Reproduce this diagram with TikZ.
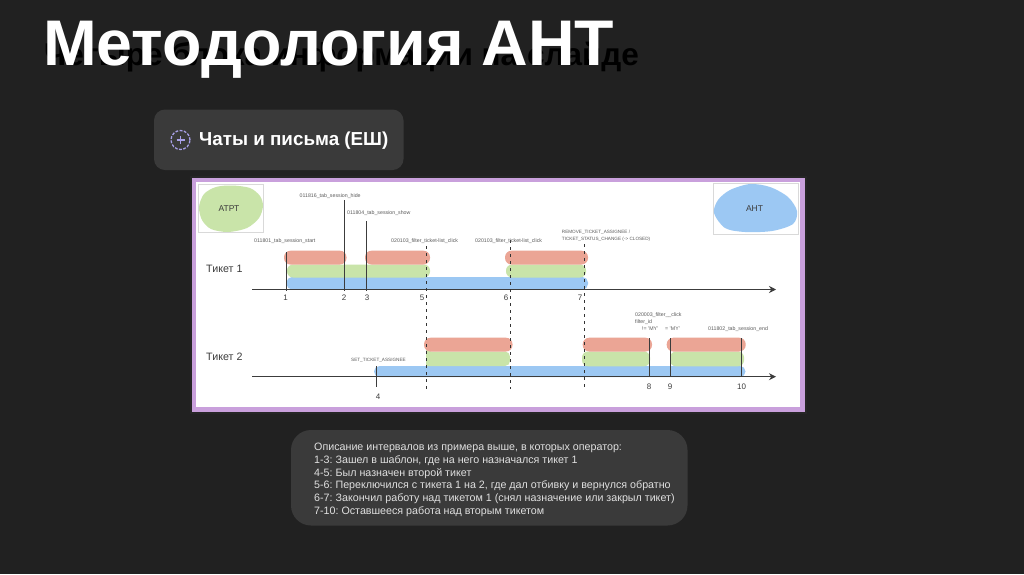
\documentclass[tikz,border=0pt]{standalone}
\usepackage{fontspec}
\setmainfont{Liberation Sans}
\usetikzlibrary{arrows.meta}
\frenchspacing
\definecolor{bgc}{HTML}{212121}
\definecolor{panelc}{HTML}{3A3A3A}
\definecolor{purplec}{HTML}{C9A0DC}
\definecolor{iconc}{HTML}{A9A0E8}
\definecolor{redc}{HTML}{EBA595}
\definecolor{greenc}{HTML}{C9E4A9}
\definecolor{bluec}{HTML}{9CC8F3}
\definecolor{linec}{HTML}{3C3C3C}
\definecolor{labelc}{HTML}{5A5A5A}
\tikzset{
  x=1pt,y=-1pt,
  fs/.style={font=\fontsize{#1}{#1}\selectfont},
  panel/.style={fill=panelc,draw=none},
  redbar/.style={fill=redc,rounded corners=6.5pt},
  greenbar/.style={fill=greenc,rounded corners=6pt},
  bluebar/.style={fill=bluec,rounded corners=5.5pt},
  axisline/.style={draw=linec,line width=0.9pt,-{Stealth[length=7pt,width=7pt]}},
  solidtick/.style={draw=linec,line width=0.9pt},
  dashtick/.style={draw=black!80,line width=0.9pt,dash pattern=on 3pt off 4pt},
  evlabel/.style={fs=5.25,text=labelc,inner sep=0pt,anchor=west},
  caplabel/.style={fs=4.65,text=labelc,inner sep=0pt,anchor=west},
  numlabel/.style={fs=8,text=linec,inner sep=0pt},
  ticketlabel/.style={fs=10.7,text=linec,inner sep=0pt,anchor=west},
  blobtext/.style={fs=8.5,text=linec,inner sep=0pt},
  descline/.style={fs=10.7,text=white!88!black,inner sep=0pt,anchor=west},
}
\begin{document}
\begin{tikzpicture}
\useasboundingbox (0,0) rectangle (1024,574);
\fill[bgc] (0,0) rectangle (1024,574);
% titles
\node[fs=31.5,text=black,inner sep=0pt,anchor=base west] (hidden) at (44,65) {\bfseries Четыре блока информации на слайде};
\node[fs=64.5,text=white,inner sep=0pt,anchor=base west] (title) at (43,65) {\bfseries Методология АНТ};
% tag
\fill[panel,rounded corners=11pt] (154,109.5) rectangle (403.5,170);
\node[circle,draw=iconc,line width=1.3pt,dash pattern=on 2.8pt off 1.5pt,minimum size=19pt,inner sep=0pt] (icon) at (180.5,140) {};
\draw[iconc,line width=1.3pt] (176.5,140) -- (184.5,140) (180.5,136) -- (180.5,144);
\node[fs=18.8,text=white,inner sep=0pt,anchor=west] (tag) at (199,141) {\bfseries Чаты и письма (ЕШ)};
% picture frame
\fill[black!85] (189.5,176) rectangle (807,414);
\fill[white,draw=purplec,line width=4.2pt] (193.8,180.3) rectangle (802.5,409.5);
% corner boxes
\draw[black!15,line width=0.7pt] (198,184) rectangle (263,232);
\draw[black!15,line width=0.7pt] (713,183) rectangle (798,234);
\fill[greenc] plot[smooth cycle] coordinates {(199,207) (204,194) (216,187) (232,185.5) (250,188) (260,196) (263,206) (259,218) (247,228) (228,232) (211,229) (202,220)};
\fill[bluec] plot[smooth cycle] coordinates {(714,213) (718,200) (730,190) (750,184) (770,187) (788,197) (797,211) (793,224) (772,231) (745,232) (725,228)};
\node[blobtext] (atpt) at (229,209) {АТРТ};
\node[blobtext] (aht) at (754.5,209) {АНТ};
% ticket 1 bars
\fill[bluebar] (286.5,277) rectangle (588,289.5);
\fill[greenbar] (287,264.5) rectangle (430,277.5);
\fill[greenbar] (506,264.5) rectangle (586,277.5);
\fill[redbar] (284,250.7) rectangle (346.5,264.5);
\fill[redbar] (365,250.7) rectangle (430,264.5);
\fill[redbar] (505,250.7) rectangle (588,264.5);
% ticket 2 bars
\fill[bluebar] (374,366) rectangle (745.5,377);
\fill[greenc] (426,351.5) -- (426,366) -- (505,366) [rounded corners=5pt] -- (510,366) -- (510,351.5) -- (426,351.5) -- cycle;
\fill[greenbar] (582,351.5) rectangle (650,366.3);
\fill[greenbar] (670,351.5) rectangle (744,366.3);
\fill[redbar] (424,337.7) rectangle (512.5,351.5);
\fill[redbar] (582.7,337.7) rectangle (652,351.5);
\fill[redbar] (666.7,337.7) rectangle (745.7,351.5);
% axes
\coordinate (a1s) at (252,289.5); \coordinate (a1e) at (776,289.5);
\coordinate (a2s) at (252,376.7); \coordinate (a2e) at (776,376.7);
\draw[axisline] (a1s) -- (a1e);
\draw[axisline] (a2s) -- (a2e);
% ticks
\coordinate (t1a) at (286,252); \coordinate (t1b) at (286,291);
\coordinate (t2a) at (344,200); \coordinate (t2b) at (344,291);
\coordinate (t3a) at (366.5,221); \coordinate (t3b) at (366.5,291);
\coordinate (t4a) at (376.7,366); \coordinate (t4b) at (376.7,387);
\coordinate (t8a) at (649.7,338); \coordinate (t8b) at (649.7,377);
\coordinate (t9a) at (670,338); \coordinate (t9b) at (670,377);
\coordinate (t10a) at (741.7,338); \coordinate (t10b) at (741.7,377);
\foreach \n in {1,2,3,4,8,9,10} \draw[solidtick] (t\n a) -- (t\n b);
\coordinate (t5a) at (426,246); \coordinate (t5b) at (426,389);
\coordinate (t6a) at (510,240); \coordinate (t6b) at (510,389);
\coordinate (t7a) at (584,244); \coordinate (t7b) at (584,389);
\foreach \n in {5,6,7} \draw[dashtick] (t\n a) -- (t\n b);
% event labels
\node[evlabel] (e1) at (299.5,196) {011816\_tab\_session\_hide};
\node[evlabel] (e2) at (347,212.7) {011804\_tab\_session\_show};
\node[evlabel] (e3) at (254,241) {011801\_tab\_session\_start};
\node[evlabel] (e4) at (391,241) {020103\_filter\_ticket-list\_click};
\node[evlabel] (e5) at (475,241) {020103\_filter\_ticket-list\_click};
\node[caplabel] (e6) at (561.7,232) {REMOVE\_TICKET\_ASSIGNEE /};
\node[caplabel] (e7) at (561.7,239.7) {TICKET\_STATUS\_CHANGE (-> CLOSED)};
\node[caplabel] (e8) at (351,360.5) {SET\_TICKET\_ASSIGNEE};
\node[evlabel] (e9) at (635,315) {020003\_filter\_\_click};
\node[evlabel] (e10) at (635,322) {filter\_id};
\node[evlabel] (e11) at (642,329) {!= 'MY'};
\node[evlabel] (e12) at (665,329) {= 'MY'};
\node[evlabel] (e13) at (708,329) {011802\_tab\_session\_end};
% numbers
\node[numlabel] (n1) at (285.7,298) {1};
\node[numlabel] (n2) at (344,298) {2};
\node[numlabel] (n3) at (367,298) {3};
\node[numlabel] (n5) at (422,298) {5};
\node[numlabel] (n6) at (506,298) {6};
\node[numlabel] (n7) at (580,298) {7};
\node[numlabel] (n4) at (378,396.5) {4};
\node[numlabel] (n8) at (649,386.5) {8};
\node[numlabel] (n9) at (670,386.5) {9};
\node[numlabel] (n10) at (741.5,386.5) {10};
\node[ticketlabel] (tk1) at (206,269) {Тикет 1};
\node[ticketlabel] (tk2) at (206,357) {Тикет 2};
% description
\fill[panel,rounded corners=20pt] (291,430) rectangle (687.5,525.5);
\node[descline] (d1) at (314,447.7) {Описание интервалов из примера выше, в которых оператор:};
\node[descline] (d2) at (314,460.7) {1-3: Зашел в шаблон, где на него назначался тикет 1};
\node[descline] (d3) at (314,473.3) {4-5: Был назначен второй тикет};
\node[descline] (d4) at (314,485.7) {5-6: Переключился с тикета 1 на 2, где дал отбивку и вернулся обратно};
\node[descline] (d5) at (314,499) {6-7: Закончил работу над тикетом 1 (снял назначение или закрыл тикет)};
\node[descline] (d6) at (314,511.7) {7-10: Оставшееся работа над вторым тикетом};
\end{tikzpicture}
\end{document}
